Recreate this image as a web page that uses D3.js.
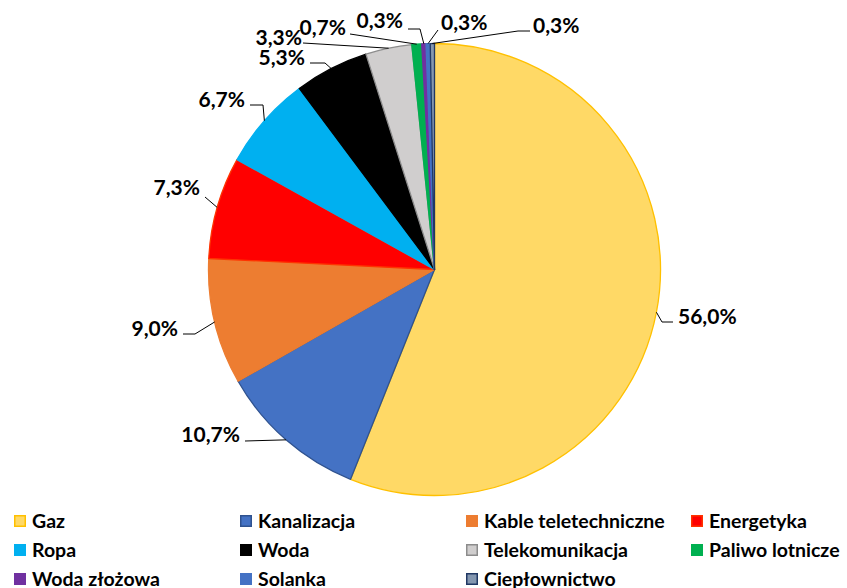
<!DOCTYPE html>
<html>
<head>
<meta charset="utf-8">
<script src="https://cdn.jsdelivr.net/npm/d3@7"></script>
<style>
    body { margin: 0; background: #fff; }
    svg text { font-family: Lato, "Open Sans", sans-serif; font-weight: bold; fill: #000; }
</style>
</head>
<body>
<script>

// Data
var categories = ['Gaz', 'Kanalizacja', 'Kable teletechniczne', 'Energetyka', 'Ropa', 'Woda',
    'Telekomunikacja', 'Paliwo lotnicze', 'Woda złożowa', 'Solanka', 'Ciepłownictwo'];
var shares = [56.0, 10.7, 9.0, 7.3, 6.7, 5.3, 3.3, 0.7, 0.3, 0.3, 0.3];
var labels = ['56,0%', '10,7%', '9,0%', '7,3%', '6,7%', '5,3%', '3,3%', '0,7%', '0,3%', '0,3%', '0,3%'];

// Colours (fill, border)
var fills = ['#FFD966', '#4472C4', '#ED7D31', '#FF0000', '#00B0F0', '#000000',
    '#D0CECE', '#00B050', '#7030A0', '#4472C4', '#8497B0'];
var borders = ['#FFC000', '#2F528F', '#ED7D31', '#FF3300', '#00B0F0', '#000000',
    '#8C8C8C', '#00B050', '#7030A0', '#4472C4', '#203864'];

// Label placement: text x, text centre y, anchor, elbow of the leader line (or null), leader end
var label_pos = [
    { x: 678, y: 316, anchor: 'start', elbow: [662, 322], end: [673, 322] },
    { x: 240, y: 434, anchor: 'end',   elbow: null,       end: [245, 441] },
    { x: 178, y: 328, anchor: 'end',   elbow: [195, 334], end: [183, 334] },
    { x: 200, y: 187, anchor: 'end',   elbow: null,       end: [205, 197] },
    { x: 245, y: 99,  anchor: 'end',   elbow: [263, 105], end: [250, 105] },
    { x: 305, y: 57,  anchor: 'end',   elbow: [325, 63],  end: [310, 63] },
    { x: 302, y: 37,  anchor: 'end',   elbow: null,       end: [303, 43] },
    { x: 346, y: 27,  anchor: 'end',   elbow: null,       end: [350, 34] },
    { x: 403, y: 20,  anchor: 'end',   elbow: [420, 29],  end: [408, 29] },
    { x: 441, y: 22,  anchor: 'start', elbow: null,       end: [438, 30] },
    { x: 533, y: 25,  anchor: 'start', elbow: [518, 31],  end: [530, 31] }
];

var width = 847, height = 588;
var cx = 434.5, cy = 269.5, radius = 226;

var svg = d3.select('body').append('svg')
    .attr('width', width)
    .attr('height', height);

// ================================================================================================
// Pie

var data = categories.map(function (c, i) {
    return { name: c, value: shares[i], label: labels[i], index: i };
});

var pie = d3.pie()
    .sort(null)
    .value(function (d) { return d.value; });

var arc = d3.arc()
    .innerRadius(0)
    .outerRadius(radius);

var arcs = pie(data);

var g = svg.append('g')
    .attr('transform', 'translate(' + cx + ',' + cy + ')');

g.selectAll('path')
    .data(arcs)
    .enter()
    .append('path')
    .attr('d', arc)
    .attr('fill', function (d) { return fills[d.data.index]; })
    .attr('stroke', function (d) { return borders[d.data.index]; })
    .attr('stroke-width', 1.3)
    .attr('stroke-linejoin', 'round');

// Leader lines start at the outer edge, at the middle of each slice
function edge_point(d) {
    var a = (d.startAngle + d.endAngle) / 2;
    return [cx + radius * Math.sin(a), cy - radius * Math.cos(a)];
}

svg.selectAll('polyline.leader')
    .data(arcs)
    .enter()
    .append('polyline')
    .attr('class', 'leader')
    .attr('fill', 'none')
    .attr('stroke', '#000')
    .attr('stroke-width', 1)
    .attr('points', function (d) {
        var p = label_pos[d.data.index];
        var pts = [edge_point(d)];
        if (p.elbow) { pts.push(p.elbow); }
        pts.push(p.end);
        return pts.map(function (v) { return v.join(','); }).join(' ');
    });

svg.selectAll('text.label')
    .data(arcs)
    .enter()
    .append('text')
    .attr('class', 'label')
    .attr('x', function (d) { return label_pos[d.data.index].x; })
    .attr('y', function (d) { return label_pos[d.data.index].y; })
    .attr('dy', '0.36em')
    .attr('text-anchor', function (d) { return label_pos[d.data.index].anchor; })
    .style('font-size', '21px')
    .text(function (d) { return d.data.label; });

// ================================================================================================
// Legend

var legend_cols = [14, 240, 466, 691];
var legend_rows = [521, 550, 579];

var legend = svg.selectAll('g.legend')
    .data(data)
    .enter()
    .append('g')
    .attr('class', 'legend')
    .attr('transform', function (d, i) {
        return 'translate(' + legend_cols[i % 4] + ',' + legend_rows[Math.floor(i / 4)] + ')';
    });

legend.append('rect')
    .attr('x', 0.75)
    .attr('y', -5.25)
    .attr('width', 10.5)
    .attr('height', 10.5)
    .attr('fill', function (d) { return fills[d.index]; })
    .attr('stroke', function (d) { return borders[d.index]; })
    .attr('stroke-width', 1.5);

legend.append('text')
    .attr('x', 18)
    .attr('y', 0)
    .attr('dy', '0.36em')
    .style('font-size', '19.5px')
    .text(function (d) { return d.name; });

</script>
</body>
</html>
